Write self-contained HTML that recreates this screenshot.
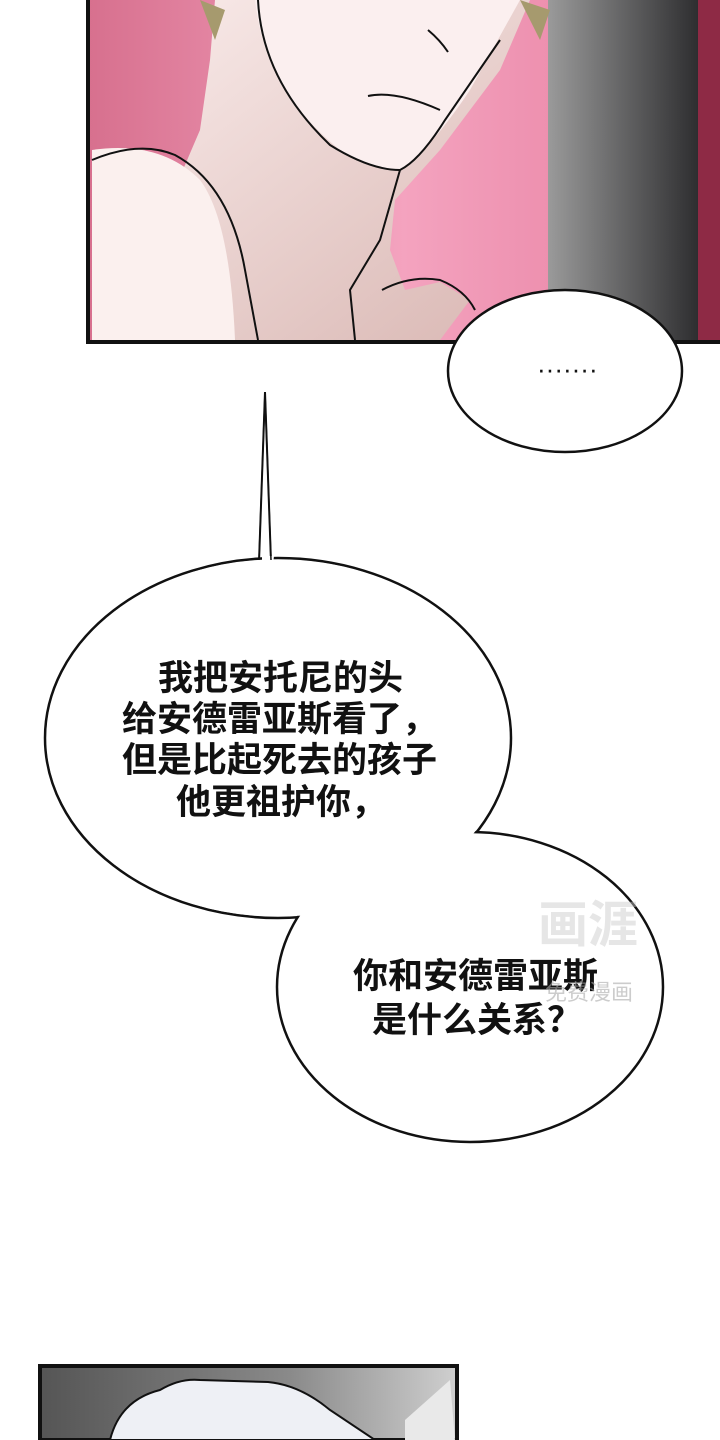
<!DOCTYPE html>
<html><head><meta charset="utf-8"><style>
html,body{margin:0;padding:0;background:#fff;}
body{width:720px;height:1440px;position:relative;overflow:hidden;font-family:"Liberation Sans","Noto Sans CJK SC",sans-serif;}
.t{position:absolute;font-weight:bold;font-size:35px;line-height:35px;color:#111;white-space:nowrap;}
</style></head><body>
<svg width="720" height="1440" style="position:absolute;left:0;top:0">
<defs>
<linearGradient id="pk" x1="0" x2="1"><stop offset="0" stop-color="#d7708e"/><stop offset="0.5" stop-color="#f4a3bf"/><stop offset="1" stop-color="#e57a9c"/></linearGradient>
<linearGradient id="gr" x1="0" x2="1"><stop offset="0" stop-color="#9a9a9a"/><stop offset="1" stop-color="#2e2e30"/></linearGradient>
<linearGradient id="sk" x1="0" x2="1" y1="0" y2="1"><stop offset="0" stop-color="#fbeeed"/><stop offset="1" stop-color="#d9b7b3"/></linearGradient>
<linearGradient id="bg2" x1="0" x2="1"><stop offset="0" stop-color="#555"/><stop offset="0.6" stop-color="#8a8a8a"/><stop offset="1" stop-color="#cfcfcf"/></linearGradient>
</defs>
<rect x="88" y="0" width="632" height="342" fill="url(#pk)"/>
<rect x="548" y="0" width="150" height="342" fill="url(#gr)"/>
<rect x="698" y="0" width="22" height="342" fill="#8e2a45"/>
<path d="M215 0 L210 60 L200 130 L170 200 L150 215 L92 250 L92 340 L440 340 L470 300 L440 282 L405 290 L390 250 L395 200 L440 150 L500 70 L530 0 Z" fill="url(#sk)"/>
<path d="M255 0 Q265 90 340 150 Q385 175 400 170 Q430 150 470 90 L520 0 Z" fill="#fbefef"/>
<path d="M92 150 Q160 140 200 180 Q230 220 235 340 L92 340 Z" fill="#fbf0ee"/>
<path d="M200 0 L215 40 L225 10 Z M520 0 L540 40 L550 10 Z" fill="#a69a6e"/>
<g fill="none" stroke="#111" stroke-width="2">
<path d="M258 0 Q262 80 330 145 Q370 170 400 170 Q420 160 445 120 L500 40"/>
<path d="M92 160 Q140 140 175 155 Q230 185 245 270 L258 340"/>
<path d="M400 170 L380 240 L350 290 L355 340"/>
<path d="M382 290 Q410 275 440 280 Q465 290 475 310"/>
<path d="M368 96 Q395 90 440 110"/>
<path d="M428 30 Q440 40 448 52"/>
</g>
<path d="M88 0 V342 H720" fill="none" stroke="#111" stroke-width="4"/>
<rect x="40" y="1366" width="417" height="74" fill="url(#bg2)" stroke="#111" stroke-width="4"/>
<path d="M110 1440 Q120 1400 160 1390 Q180 1378 200 1380 L268 1382 Q300 1385 330 1410 L375 1440 Z" fill="#eef0f5" stroke="#111" stroke-width="2"/>
<path d="M405 1420 L450 1380 L455 1440 L405 1440 Z" fill="#e9e9e9"/>
<ellipse cx="565" cy="371" rx="117" ry="81" fill="#fff" stroke="#111" stroke-width="2.5"/>
<path d="M265 392 L259 562 L271 562 Z" fill="#fff" stroke="#111" stroke-width="2"/>
<ellipse cx="278" cy="738" rx="233" ry="180" fill="#fff" stroke="#111" stroke-width="2.5"/>
<ellipse cx="470" cy="987" rx="193" ry="155" fill="#fff" stroke="#111" stroke-width="2.5"/>
<ellipse cx="278" cy="738" rx="231.5" ry="178.5" fill="#fff"/>
<path d="M262 556 L274 556 L272 572 L262 572 Z" fill="#fff"/>
<path d="M265 392 L259 560 M265 392 L271 560" stroke="#111" stroke-width="1.5"/>
</svg>
<div class="t" style="left:537px;top:352px;font-size:26px;font-weight:normal;">·······</div>
<div class="t" style="left:158px;top:661px;">我把安托尼的头</div>
<div class="t" style="left:122px;top:702px;">给安德雷亚斯看了，</div>
<div class="t" style="left:122px;top:743px;">但是比起死去的孩子</div>
<div class="t" style="left:176px;top:785px;">他更祖护你，</div>
<div class="t" style="left:353px;top:959px;">你和安德雷亚斯</div>
<div class="t" style="left:372px;top:1003px;">是什么关系？</div>
<div class="t" style="left:538px;top:908px;font-size:50px;color:rgba(200,200,200,0.45);">画涯</div>
<div class="t" style="left:545px;top:975px;font-size:22px;font-weight:normal;color:rgba(170,170,170,0.6);">免费漫画</div>
</body></html>
